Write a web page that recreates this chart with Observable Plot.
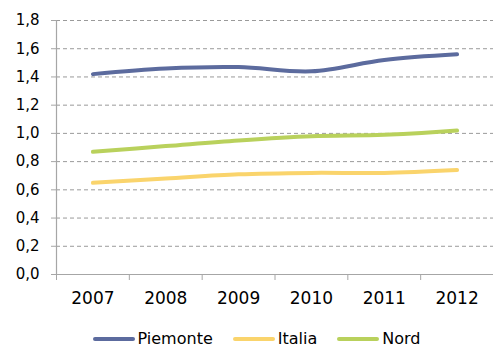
<!DOCTYPE html>
<html>
<head>
<meta charset="utf-8">
<script src="https://cdn.jsdelivr.net/npm/d3@7"></script>
<script src="https://cdn.jsdelivr.net/npm/@observablehq/plot@0.6"></script>
<style>
  html, body { margin: 0; padding: 0; background: #fff; }
  #chart { width: 493px; font-family: "DejaVu Sans", sans-serif; }
  .legend { display: flex; justify-content: center; align-items: center; height: 20px; line-height: 20px; margin-top: 11px; font-size: 16px; color: #000; margin-left: 20px; }
  .legend .item { display: flex; align-items: center; margin: 0 10px; }
  .legend .sw { display: inline-block; width: 42px; height: 4px; border-radius: 2px; margin-right: 3px; }
</style>
</head>
<body>
<div id="chart"></div>
<script>
// Anni
const years = [2007, 2008, 2009, 2010, 2011, 2012];
// Serie
const seriesNames = ["Piemonte", "Italia", "Nord"];
const piemonte = [1.42, 1.46, 1.47, 1.44, 1.52, 1.56];
const italia = [0.65, 0.68, 0.71, 0.72, 0.72, 0.74];
const nord = [0.87, 0.91, 0.95, 0.98, 0.99, 1.02];
const colors = ["#5C6B9E", "#FAD46C", "#B9D15C"];
// Etichette asse Y
const yTicks = [0, 0.2, 0.4, 0.6, 0.8, 1.0, 1.2, 1.4, 1.6, 1.8];

const values = [piemonte, italia, nord];
const data = seriesNames.flatMap((name, i) =>
  years.map((year, j) => ({ serie: name, year, value: values[i][j] }))
);

const fmt = d => d.toFixed(1).replace(".", ",");
const bounds = [...years.map(y => y - 0.5), years[years.length - 1] + 0.5];

const chart = Plot.plot({
  width: 493,
  height: 318,
  marginLeft: 56,
  marginRight: 0,
  marginTop: 20,
  marginBottom: 44,
  style: { fontFamily: "DejaVu Sans, sans-serif", color: "#000", background: "#fff" },
  x: { domain: [bounds[0], bounds[bounds.length - 1]] },
  y: { domain: [0, 1.8] },
  color: { domain: seriesNames, range: colors },
  marks: [
    Plot.gridY(yTicks.slice(1), { stroke: "#9a9a9a", strokeOpacity: 1, strokeDasharray: "4,3", strokeWidth: 1 }),
    Plot.axisY(yTicks, { tickFormat: fmt, tickSize: 5, tickPadding: 12, fontSize: 15, stroke: "#a6a6a6", label: null }),
    Plot.ruleX([bounds[0]], { stroke: "#a6a6a6", strokeWidth: 1.2 }),
    Plot.ruleY([0], { stroke: "#a6a6a6", strokeWidth: 1.2 }),
    Plot.axisX(bounds, { tickFormat: () => "", tickSize: 6, stroke: "#a6a6a6", label: null }),
    Plot.axisX(years, { tickFormat: d => String(d), tickSize: 0, tickPadding: 17, fontSize: 17, label: null }),
    Plot.line(data, {
      x: "year", y: "value", z: "serie", stroke: "serie",
      strokeWidth: 4, curve: "catmull-rom", strokeLinecap: "round"
    })
  ]
});

const root = document.getElementById("chart");
root.appendChild(chart);

const legend = document.createElement("div");
legend.className = "legend";
seriesNames.forEach((name, i) => {
  const item = document.createElement("span");
  item.className = "item";
  const sw = document.createElement("span");
  sw.className = "sw";
  sw.style.background = colors[i];
  const label = document.createElement("span");
  label.textContent = name;
  item.appendChild(sw);
  item.appendChild(label);
  legend.appendChild(item);
});
root.appendChild(legend);
</script>
</body>
</html>
